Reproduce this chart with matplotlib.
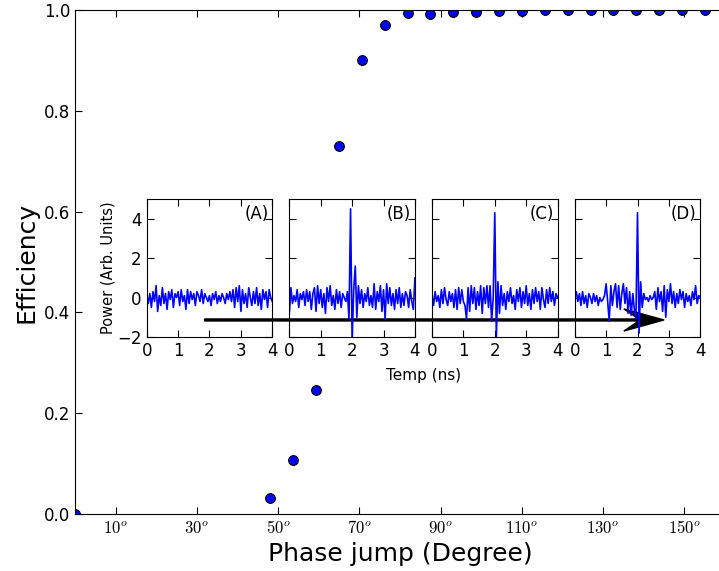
import numpy as np
import matplotlib
matplotlib.use("Agg")
import matplotlib.pyplot as plt

plt.rcParams['mathtext.fontset'] = 'cm'
plt.rcParams['font.family'] = 'DejaVu Sans'

# efficiency vs phase jump
phase = [0.0, 48.1, 53.75, 59.4, 65.0, 70.6, 76.25, 81.9, 87.5, 93.1, 98.75,
         104.4, 110.0, 115.6, 121.25, 126.9, 132.5, 138.1, 143.75, 149.4, 155.0]
eff = [0.0, 0.032, 0.107, 0.246, 0.73, 0.90, 0.971, 0.995, 0.993, 0.996, 0.997,
       0.998, 0.998, 0.999, 0.999, 0.999, 0.999, 0.999, 0.999, 0.999, 0.999]
xtick_deg = [10, 30, 50, 70, 90, 110, 130, 150]
ytick_eff = [0.0, 0.2, 0.4, 0.6, 0.8, 1.0]

# inset traces, power vs time (ns), sampled every 0.05 ns
pow_A = [0.0, -0.3, 0.2, -0.5, 0.3, -0.2, 0.6, -0.7, 0.1, -0.4, 0.5, -0.3, 0.2, -0.6,
         0.3, -0.1, 0.4, -0.5, 0.2, 0.0, 0.3, -0.4, 0.4, -0.2, 0.1, -0.6, 0.4, -0.3,
         0.3, -0.1, 0.2, -0.4, 0.3, 0.1, -0.2, 0.4, -0.3, 0.2, 0.0, -0.2, 0.1, -0.4,
         0.2, -0.1, 0.3, -0.3, 0.1, -0.2, 0.2, 0.0, -0.3, 0.2, -0.1, 0.3, -0.2, 0.4,
         -0.5, 0.5, -0.2, 0.6, -0.7, 0.4, -0.3, 0.2, -0.5, 0.5, 0.0, -0.4, 0.3, -0.3,
         0.5, -0.4, 0.2, -0.6, 0.4, -0.1, 0.3, -0.5, 0.4, 0.0, -0.2]
pow_B = [-0.8, 0.5, -0.3, 0.1, -0.2, 0.4, -0.5, 0.2, -0.1, 0.3, -0.4, 0.4, -0.2, 0.3,
         -0.6, 0.2, 0.5, -0.7, 0.6, -0.3, 0.4, -0.5, 0.2, -0.8, 0.5, -0.2, 0.6, -0.4,
         0.1, -0.6, 0.4, -0.3, 0.3, -0.5, 0.2, 0.0,
         -0.2, 0.3, -1.1, 4.5, -2.2, 0.4, 1.6, -1.0, 0.6,
         -0.3, 0.4, -0.5, 0.2, -0.2, 0.5, -0.4, 0.1, -0.5, 0.7, -0.6, 0.3, -0.2, 0.6,
         -0.7, 0.4, -1.1, 0.7, -0.3, 0.5, -0.4, 0.2, -0.6, 0.4, -0.3, 0.5, -0.5, 0.2,
         -0.4, 0.3, 0.1, -0.5, 0.4, -0.2, -0.6, 1.0]
pow_C = [0.2, -0.4, 0.3, -0.2, 0.1, -0.5, 0.4, -0.3, 0.5, -0.1, -0.4, 0.3, -0.2, 0.2,
         -0.5, 0.4, -0.6, 0.5, -0.3, 0.4, -0.2, -0.4, -1.1, 0.5, -0.7, 0.6, -0.3, 0.5,
         -0.6, 0.3, -0.4, 0.6, -0.8, 0.5, -0.3, 0.6,
         -0.5, 0.6, -1.2, 0.0, 4.3, -2.0, 0.8, -0.8, 0.6,
         -0.4, 0.2, -0.6, 0.3, -0.2, 0.5, -0.3, 0.1, -0.6, 0.4, -0.2, 0.5, -0.5, 0.3,
         -0.3, 0.6, -0.4, 0.2, -0.6, 0.4, -0.3, 0.5, -0.2, 0.3, -0.6, 0.5, -0.1, -0.5,
         0.4, -0.3, 0.5, -0.2, 0.3, -0.4, 0.2, 0.0]
pow_D = [0.0, 0.3, -0.2, 0.2, -0.4, 0.3, -0.3, 0.1, -0.5, 0.2, 0.0, -0.3, 0.2, -0.2,
         0.1, -0.4, 0.0, -0.2, -0.1, 0.1, 0.7, -0.2, -1.2, 0.6, -0.4, 0.3, 0.7, -0.5,
         0.6, -0.6, 0.2, 0.7, -0.3, 0.5, -0.8, 0.3,
         -0.9, 0.2, -0.6, -1.1, 4.3, -1.8, 0.8, -0.5, 0.2,
         -0.1, 0.0, -0.2, 0.1, -0.1, 0.0, 0.3, -0.6, 0.5, -0.2, 0.3, -0.7, 0.6, -1.0,
         0.4, -0.2, 0.7, -0.3, 0.3, -0.5, 0.2, -0.3, 0.4, -0.1, 0.3, -0.5, 0.2, -0.2,
         0.1, -0.4, 0.3, -0.1, 0.6, -0.3, 0.1, 0.0]
traces = [pow_A, pow_B, pow_C, pow_D]
panel_names = ['(A)', '(B)', '(C)', '(D)']

fig = plt.figure(figsize=(7.19, 5.71), dpi=100)
ax = fig.add_axes([0.1043, 0.0998, 0.904, 0.8827])
ax.plot(phase, eff, 'o', color='#0000ff', markeredgecolor='k',
        markeredgewidth=0.8, markersize=7)
ax.set_xlim(0, 160)
ax.set_ylim(0, 1.0)
ax.set_xticks(xtick_deg)
ax.set_xticklabels([r'$%d^o$' % d for d in xtick_deg], fontsize=12)
ax.set_yticks(ytick_eff)
ax.set_yticklabels(['%.1f' % v for v in ytick_eff], fontsize=12)
ax.tick_params(direction='in', top=True, right=False, length=5)
ax.spines['right'].set_visible(False)
ax.set_xlabel('Phase jump (Degree)', fontsize=18)
ax.set_ylabel('Efficiency', fontsize=18)

# arrow across the insets
ax.arrow(31.9, 0.385, 113.1, 0, width=0.004, head_width=0.044, head_length=9.9,
         length_includes_head=True, overhang=0.37, fc='k', ec='k', zorder=3)

lefts = [0.204, 0.4024, 0.6008, 0.7993]
for i in range(4):
    t = np.linspace(0, 4, len(traces[i]))
    iax = fig.add_axes([lefts[i], 0.4098, 0.1747, 0.2417])
    iax.patch.set_alpha(0)
    iax.plot(t, traces[i], color='#0000ff', lw=1.2)
    iax.set_xlim(0, 4)
    iax.set_ylim(-2, 5)
    iax.set_xticks([0, 1, 2, 3, 4])
    iax.set_yticks([-2, 0, 2, 4])
    iax.tick_params(direction='in', top=True, right=True, length=5, labelsize=12)
    if i > 0:
        iax.set_yticklabels([])
    else:
        iax.set_ylabel('Power (Arb. Units)', fontsize=10.5, labelpad=1)
    iax.text(0.97, 0.96, panel_names[i], transform=iax.transAxes,
             ha='right', va='top', fontsize=12)

fig.text(0.589, 0.343, 'Temp (ns)', ha='center', va='center', fontsize=11)

fig.savefig('out.png', dpi=100)
